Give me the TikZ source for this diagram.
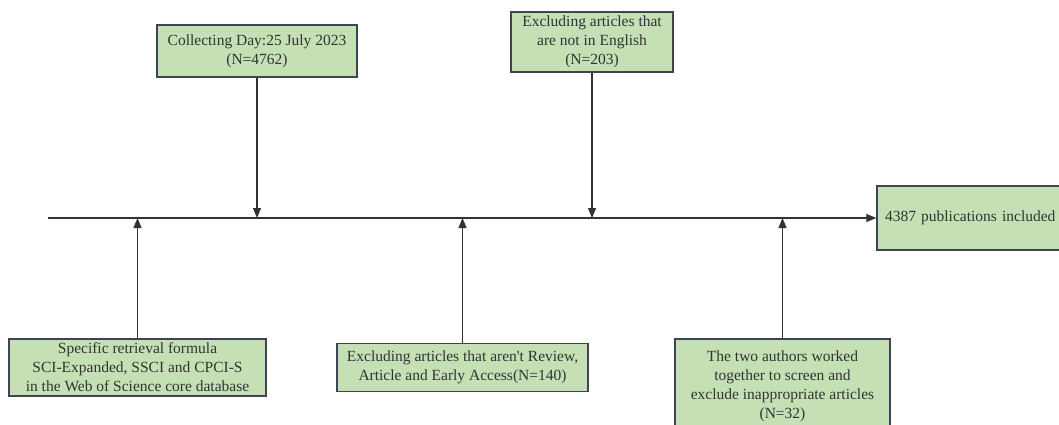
\documentclass[tikz,border=0pt]{standalone}
\usepackage{fontspec}
\setmainfont{Liberation Serif}
\usetikzlibrary{arrows.meta}
\definecolor{boxfill}{HTML}{C5E0B4}
\definecolor{boxdraw}{HTML}{3F4550}
\definecolor{linecol}{HTML}{333333}
\definecolor{txt}{HTML}{333333}
\begin{document}
\begin{tikzpicture}[x=1pt,y=-1pt,
  box/.style={draw=boxdraw,fill=boxfill,line width=1.3pt,inner sep=0pt,align=center,
    text=txt,font=\fontsize{15.5}{19}\selectfont},
  conn/.style={draw=linecol,line width=1.2pt,-{Triangle[length=10pt,width=8pt]}}]
\useasboundingbox (0,0) rectangle (1059,425);
\node[box,minimum width=200pt,minimum height=52pt] (b1) at (257,51) {Collecting Day:25 July 2023\\(N=4762)};
\node[box,minimum width=162pt,minimum height=60pt] (b2) at (592,42) {Excluding articles that\\are not in English\\(N=203)};
\node[box,minimum width=190pt,minimum height=64pt,text width=188pt,align=left] (res) at (972,218) {\hspace*{7pt}4387 publications included};
\node[box,minimum width=257pt,minimum height=57pt] (c1) at (137.5,367.5) {Specific retrieval formula\\SCI-Expanded, SSCI and CPCI-S\\in the Web of Science core database};
\node[box,minimum width=251pt,minimum height=48pt] (c2) at (462.5,367.5) {Excluding articles that aren\textquotesingle t Review,\\Article and Early Access(N=140)};
\node[box,minimum width=215pt,minimum height=94pt] (c3) at (782.5,386) {The two authors worked\\together to screen and\\exclude inappropriate articles\\(N=32)};
\coordinate (start) at (48,218);
\draw[conn] (start) -- (res.west);
\draw[conn] (b1.south) -- (b1.south |- start);
\draw[conn] (b2.south) -- (b2.south |- start);
\draw[conn] (c1.north) -- (c1.north |- start);
\draw[conn] (c2.north) -- (c2.north |- start);
\draw[conn] (c3.north) -- (c3.north |- start);
\end{tikzpicture}
\end{document}
